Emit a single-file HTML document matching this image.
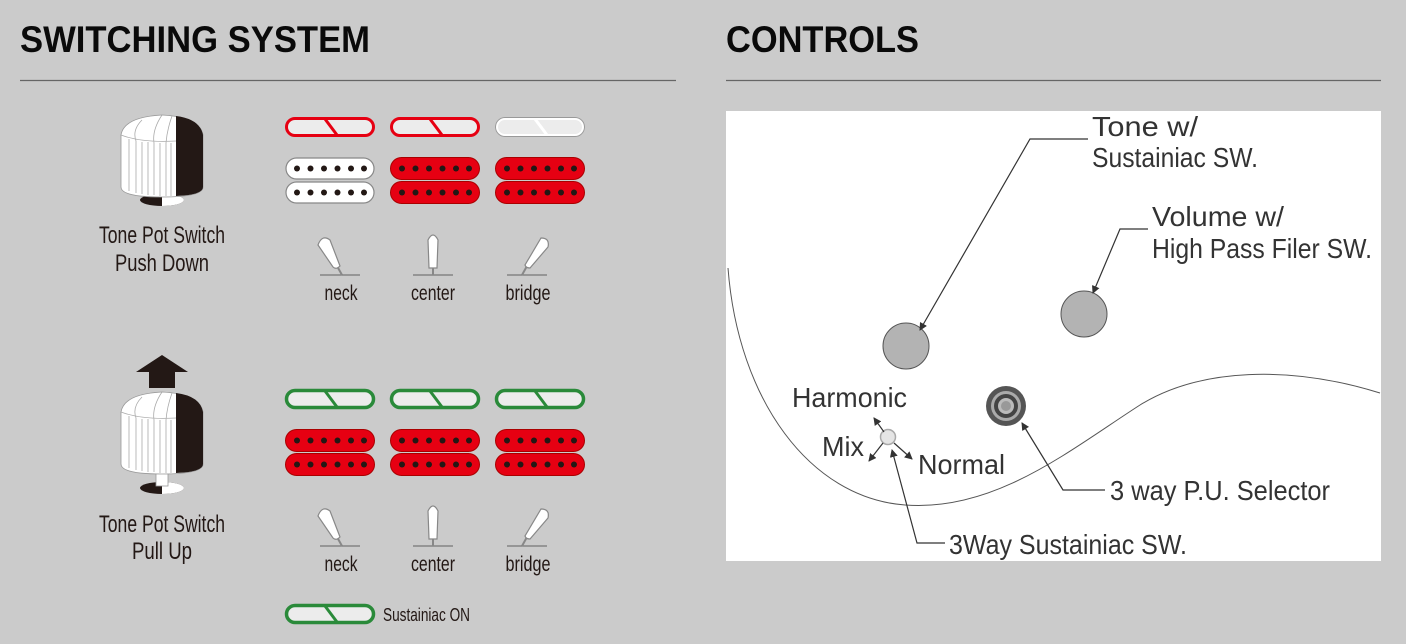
<!DOCTYPE html>
<html><head><meta charset="utf-8"><style>
html,body{margin:0;padding:0;background:#cbcbcb;}
svg{display:block}
.n{font-family:"Liberation Sans Narrow","Liberation Sans",sans-serif;fill:#231815}
.c{font-family:"Liberation Sans Narrow","Liberation Sans",sans-serif;fill:#333}
</style></head><body>
<svg width="1406" height="644" viewBox="0 0 1406 644" xmlns="http://www.w3.org/2000/svg">
<defs>
<g id="sr"><rect x="1.5" y="1.5" width="87" height="17" rx="8.5" fill="#ececec" stroke="#e60012" stroke-width="3"/><path d="M40 2 L52 18" stroke="#e60012" stroke-width="3"/></g>
<g id="sw"><rect x="1.5" y="1.5" width="87" height="17" rx="8.5" fill="#ececec" stroke="#fff" stroke-width="3"/><rect x="0.5" y="0.5" width="89" height="19" rx="9.5" fill="none" stroke="#999" stroke-width="1"/><path d="M40 2 L52 18" stroke="#fff" stroke-width="3"/></g>
<g id="sg"><rect x="1.5" y="1.5" width="87" height="17" rx="8.5" fill="#ececec" stroke="#2a8a3a" stroke-width="3.5"/><path d="M40 2 L52 18" stroke="#2a8a3a" stroke-width="3"/></g>
<g id="dots" fill="#231815"><circle cx="12" cy="11.5" r="3"/><circle cx="25.5" cy="11.5" r="3"/><circle cx="39" cy="11.5" r="3"/><circle cx="52.5" cy="11.5" r="3"/><circle cx="66" cy="11.5" r="3"/><circle cx="79" cy="11.5" r="3"/></g>
<g id="hr"><rect x="0.5" y="0.5" width="89" height="22" rx="11" fill="#e60012" stroke="#a00" stroke-width="1"/><use href="#dots"/><rect x="0.5" y="24.5" width="89" height="22" rx="11" fill="#e60012" stroke="#a00" stroke-width="1"/><use href="#dots" y="24"/></g>
<g id="hw"><rect x="1" y="1" width="88" height="21" rx="10.5" fill="#fff" stroke="#888" stroke-width="1.2"/><use href="#dots"/><rect x="1" y="25" width="88" height="21" rx="10.5" fill="#fff" stroke="#888" stroke-width="1.2"/><use href="#dots" y="24"/></g>
<g id="knob">
<path d="M-41 0 Q-38 -18 0 -20 Q38 -18 41 0 L41 52 Q41 62 0 62 Q-41 62 -41 52 Z" fill="#fff" stroke="#999" stroke-width="0.8"/>
<path d="M14 -19 Q38 -16 41 0 L41 52 Q41 60 14 61 Z" fill="#231815"/>
<g stroke="#aaa" stroke-width="0.8" fill="none"><path d="M-33 4 V56 M-26 6 V58 M-20 7 V59 M-14 7 V60 M-8 8 V60 M-2 8 V61 M4 8 V61 M9 8 V61"/><path d="M-41 0 Q-20 8 14 6 M-20 -15 Q-30 -5 -26 6 M0 -20 Q-10 -5 -8 8 M10 -19 Q5 -5 4 8"/></g>
</g>
<marker id="ah" markerWidth="8" markerHeight="8" refX="7" refY="4" orient="auto" markerUnits="userSpaceOnUse"><path d="M0 0 L8 4 L0 8 Z" fill="#333"/></marker>
</defs>

<text x="20" y="52" font-family="'Liberation Sans',sans-serif" font-weight="bold" font-size="37" textLength="350" lengthAdjust="spacingAndGlyphs" fill="#0a0a0a">SWITCHING SYSTEM</text>
<line x1="20" y1="80.5" x2="676" y2="80.5" stroke="#666" stroke-width="1.2"/>
<text x="726" y="52" font-family="'Liberation Sans',sans-serif" font-weight="bold" font-size="37" textLength="193" lengthAdjust="spacingAndGlyphs" fill="#0a0a0a">CONTROLS</text>
<line x1="726" y1="80.5" x2="1381" y2="80.5" stroke="#666" stroke-width="1.2"/>

<!-- knob 1 -->
<ellipse cx="162" cy="200" rx="22" ry="6" fill="#231815"/><path d="M162 194 A22 6 0 0 1 162 206 Z" fill="#fff"/>
<use href="#knob" x="162" y="135"/>
<text class="n" x="162" y="243" font-size="24" text-anchor="middle" textLength="126" lengthAdjust="spacingAndGlyphs">Tone Pot Switch</text>
<text class="n" x="162" y="271" font-size="24" text-anchor="middle" textLength="94" lengthAdjust="spacingAndGlyphs">Push Down</text>

<use href="#sr" x="285" y="117"/><use href="#sr" x="390" y="117"/><use href="#sw" x="495" y="117"/>
<use href="#hw" x="285" y="157"/><use href="#hr" x="390" y="157"/><use href="#hr" x="495" y="157"/>

<g fill="#fff" stroke="#888" stroke-width="1.2">
<line x1="320" y1="275" x2="360" y2="275" stroke="#777"/>
<line x1="337" y1="266" x2="342" y2="275" stroke="#888" stroke-width="2"/>
<path d="M318 245 Q322 234 330 240 L340 266 Q336 270 333 267 Z"/>
<line x1="413" y1="275" x2="453" y2="275" stroke="#777"/>
<line x1="433" y1="266" x2="433" y2="275" stroke="#888" stroke-width="2"/>
<path d="M428 240 Q433 230 438 240 L437 268 L429 268 Z"/>
<line x1="507" y1="275" x2="547" y2="275" stroke="#777"/>
<line x1="527" y1="266" x2="522" y2="275" stroke="#888" stroke-width="2"/>
<path d="M541 238 Q550 238 548 247 L530 268 Q526 268 525 265 Z"/>
</g>
<text class="n" x="341" y="300" font-size="21" text-anchor="middle" textLength="33" lengthAdjust="spacingAndGlyphs">neck</text>
<text class="n" x="433" y="300" font-size="21" text-anchor="middle" textLength="44" lengthAdjust="spacingAndGlyphs">center</text>
<text class="n" x="528" y="300" font-size="21" text-anchor="middle" textLength="45" lengthAdjust="spacingAndGlyphs">bridge</text>

<!-- knob 2 -->
<path d="M162 355 L188 372 L175 372 L175 388 L149 388 L149 372 L136 372 Z" fill="#231815"/>
<ellipse cx="162" cy="488" rx="22" ry="6" fill="#231815"/><path d="M162 482 A22 6 0 0 1 162 494 Z" fill="#fff"/>
<rect x="156" y="470" width="12" height="16" fill="#fff" stroke="#999" stroke-width="0.8"/>
<use href="#knob" x="162" y="412"/>
<text class="n" x="162" y="532" font-size="24" text-anchor="middle" textLength="126" lengthAdjust="spacingAndGlyphs">Tone Pot Switch</text>
<text class="n" x="162" y="559" font-size="24" text-anchor="middle" textLength="60" lengthAdjust="spacingAndGlyphs">Pull Up</text>

<use href="#sg" x="285" y="389"/><use href="#sg" x="390" y="389"/><use href="#sg" x="495" y="389"/>
<use href="#hr" x="285" y="429"/><use href="#hr" x="390" y="429"/><use href="#hr" x="495" y="429"/>

<g fill="#fff" stroke="#888" stroke-width="1.2">
<line x1="320" y1="546" x2="360" y2="546" stroke="#777"/>
<line x1="337" y1="537" x2="342" y2="546" stroke="#888" stroke-width="2"/>
<path d="M318 516 Q322 505 330 511 L340 537 Q336 541 333 538 Z"/>
<line x1="413" y1="546" x2="453" y2="546" stroke="#777"/>
<line x1="433" y1="537" x2="433" y2="546" stroke="#888" stroke-width="2"/>
<path d="M428 511 Q433 501 438 511 L437 539 L429 539 Z"/>
<line x1="507" y1="546" x2="547" y2="546" stroke="#777"/>
<line x1="527" y1="537" x2="522" y2="546" stroke="#888" stroke-width="2"/>
<path d="M541 509 Q550 509 548 518 L530 539 Q526 539 525 536 Z"/>
</g>
<text class="n" x="341" y="571" font-size="21" text-anchor="middle" textLength="33" lengthAdjust="spacingAndGlyphs">neck</text>
<text class="n" x="433" y="571" font-size="21" text-anchor="middle" textLength="44" lengthAdjust="spacingAndGlyphs">center</text>
<text class="n" x="528" y="571" font-size="21" text-anchor="middle" textLength="45" lengthAdjust="spacingAndGlyphs">bridge</text>

<use href="#sg" x="285" y="604"/>
<text class="n" x="383" y="621" font-size="18" textLength="87" lengthAdjust="spacingAndGlyphs">Sustainiac ON</text>

<rect x="726" y="111" width="655" height="450" fill="#fff"/>
<path d="M728 268 C738 400 810 498 905 505 C995 512 1070 450 1140 405 C1200 368 1290 365 1380 393" fill="none" stroke="#555" stroke-width="1"/>
<circle cx="906" cy="346" r="23" fill="#b3b3b3" stroke="#555" stroke-width="1"/>
<circle cx="1084" cy="314" r="23" fill="#b3b3b3" stroke="#555" stroke-width="1"/>
<circle cx="1006" cy="406" r="20" fill="#555"/>
<circle cx="1006" cy="406" r="15" fill="#aaa"/>
<circle cx="1006" cy="406" r="12" fill="#444"/>
<circle cx="1006" cy="406" r="8" fill="#bbb"/>
<circle cx="1006" cy="406" r="5" fill="#999"/>
<circle cx="888" cy="437" r="7.5" fill="#e5e5e5" stroke="#aaa" stroke-width="1.5"/>
<g stroke="#333" stroke-width="1.2" fill="none">
<polyline points="1088,139 1030,139 920,330" marker-end="url(#ah)"/>
<polyline points="1148,229 1120,229 1093,293" marker-end="url(#ah)"/>
<polyline points="1105,490 1063,490 1022,423" marker-end="url(#ah)"/>
<polyline points="945,543 917,543 892,450" marker-end="url(#ah)"/>
<line x1="884" y1="432" x2="874" y2="418" marker-end="url(#ah)"/>
<line x1="883" y1="443" x2="869" y2="461" marker-end="url(#ah)"/>
<line x1="894" y1="443" x2="912" y2="459" marker-end="url(#ah)"/>
</g>
<g class="c" font-size="28">
<text x="1092" y="136" textLength="106" lengthAdjust="spacingAndGlyphs">Tone w/</text>
<text x="1092" y="167" textLength="166" lengthAdjust="spacingAndGlyphs">Sustainiac SW.</text>
<text x="1152" y="226" textLength="132" lengthAdjust="spacingAndGlyphs">Volume w/</text>
<text x="1152" y="258" textLength="220" lengthAdjust="spacingAndGlyphs">High Pass Filer SW.</text>
<text x="792" y="407" textLength="115" lengthAdjust="spacingAndGlyphs">Harmonic</text>
<text x="822" y="456" textLength="42" lengthAdjust="spacingAndGlyphs">Mix</text>
<text x="918" y="474" textLength="87" lengthAdjust="spacingAndGlyphs">Normal</text>
<text x="1110" y="500" textLength="220" lengthAdjust="spacingAndGlyphs">3 way P.U. Selector</text>
<text x="949" y="554" textLength="238" lengthAdjust="spacingAndGlyphs">3Way Sustainiac SW.</text>
</g>
</svg>
</body></html>
